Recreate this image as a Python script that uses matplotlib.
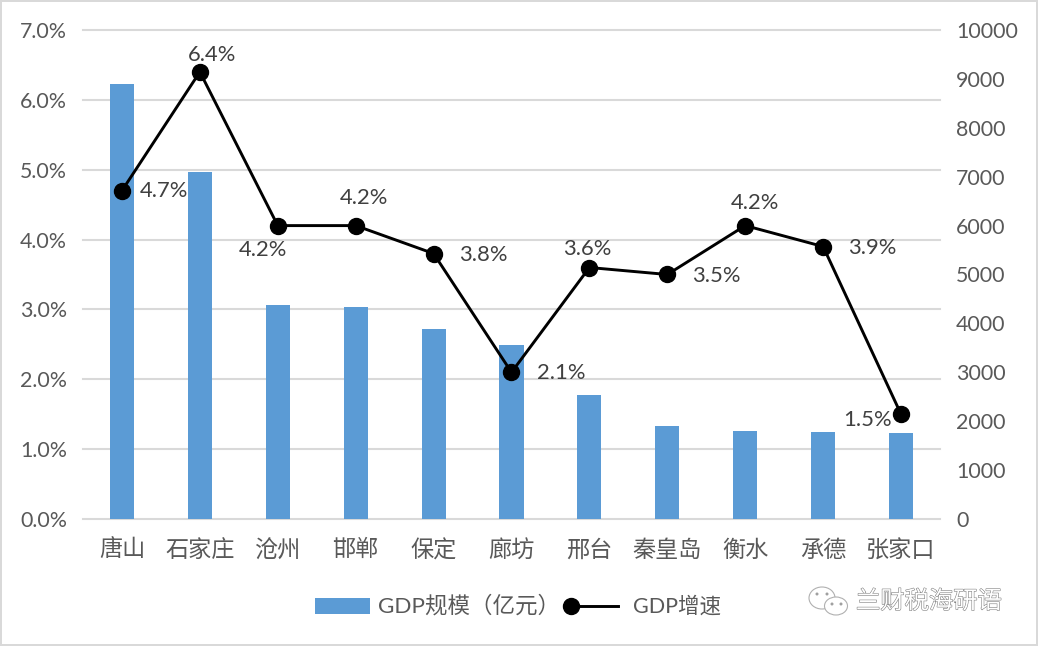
#!/usr/bin/python3
import numpy as np
import matplotlib
matplotlib.use('Agg')
import matplotlib.pyplot as plt
import matplotlib.patheffects as pe
from matplotlib.patches import Ellipse, Rectangle

plt.rcParams['font.family'] = ['Lato', 'Noto Sans CJK SC', 'DejaVu Sans']

# data
cities = ['唐山', '石家庄', '沧州', '邯郸', '保定', '廊坊', '邢台', '秦皇岛', '衡水', '承德', '张家口']
gdp_size = [8900, 7100, 4380, 4340, 3890, 3560, 2540, 1900, 1800, 1780, 1760]
gdp_growth = [4.7, 6.4, 4.2, 4.2, 3.8, 2.1, 3.6, 3.5, 4.2, 3.9, 1.5]

# label offset from marker, pixels (x right, y up)
label_dx = [42, 12, -15, 8, 50, 50, -2, 49, 10, 49, -34]
label_dy = [0, 17, -24, 28, -1, -1, 19, -2, 23, -1, -6]

size_label = 'GDP规模（亿元）'
growth_label = 'GDP增速'
watermark = '兰财税海研语'

text_col = '#595959'
grid_col = '#d9d9d9'
bar_col = '#5b9bd5'

W, H = 1038, 646
fig = plt.figure(figsize=(W/100, H/100), dpi=100)

# three layers: grid and left axis, bars and right axis, then the line
ax1 = fig.add_axes([83/W, 1-519/H, (940-83)/W, (519-30)/H])
ax2 = ax1.twinx()
ax3 = ax1.twinx()
ax1.set_zorder(1)
ax2.set_zorder(2)
ax3.set_zorder(3)
ax2.patch.set_visible(False)
ax3.patch.set_visible(False)

x = np.arange(len(cities))

ax2.bar(x, gdp_size, width=0.31, color=bar_col)
ax2.set_ylim(0, 10000)
ax2.set_yticks(np.arange(0, 10001, 1000))

ax1.set_ylim(0, 7)
ax1.set_yticks(np.arange(0, 8))
ax1.set_yticklabels(['%.1f%%' % v for v in np.arange(0, 8)])
ax1.set_xlim(-0.5, len(cities)-0.5)
ax1.set_xticks(x)
ax1.set_xticklabels(cities)
ax1.grid(axis='y', color=grid_col, lw=1.5)
for gl in ax1.get_ygridlines():
    gl.set_clip_on(False)

ax3.set_ylim(0, 7)
ax3.set_yticks([])
ax3.plot(x, gdp_growth, color='black', lw=2.1, marker='o', ms=11.5)

for i, v in enumerate(gdp_growth):
    ax3.annotate('%.1f%%' % v, (x[i], v), xytext=(label_dx[i]*0.72, label_dy[i]*0.72),
                 textcoords='offset points', ha='center', va='center',
                 fontsize=15.8, color='#404040')

for ax in (ax1, ax2, ax3):
    for s in ax.spines.values():
        s.set_visible(False)
    ax.tick_params(length=0, labelsize=15.4, labelcolor=text_col)
ax1.tick_params(axis='y', pad=11.5)
ax1.tick_params(axis='x', pad=14.5, labelsize=16.7)
ax2.tick_params(axis='y', pad=11.5)

# everything below is in image pixels
over = fig.add_axes([0, 0, 1, 1], facecolor='none')
over.set_xlim(0, W)
over.set_ylim(H, 0)
over.axis('off')
over.set_zorder(4)

# legend, marker sits at the left end of its line
over.add_patch(Rectangle((315, 598), 55, 16, fc=bar_col, ec='none'))
over.text(378, 606, size_label, fontsize=16.2, color=text_col, va='center')
over.plot([571, 618], [606, 606], color='black', lw=2.1)
over.plot([571], [606], color='black', marker='o', ms=11.5)
over.text(633, 606, growth_label, fontsize=15.5, color=text_col, va='center')

# watermark, white letters with a thin grey edge
over.text(856, 601, watermark, fontsize=17.5, color='white', ha='left', va='center',
          path_effects=[pe.withStroke(linewidth=0.8, foreground='#808080')])

# wechat bubbles of the watermark
over.add_patch(Ellipse((822, 598), 26, 22, fc='white', ec='#b0b0b0', lw=0.8))
over.add_patch(Ellipse((836, 606), 23, 18, fc='white', ec='#b0b0b0', lw=0.8))
for ex, ey in [(817, 594), (827, 594), (832, 604), (841, 604)]:
    over.add_patch(Ellipse((ex, ey), 3, 3, fc='#a0a0a0', ec='none'))

# image border
over.add_patch(Rectangle((1, 1), W-2, H-2, fc='none', ec='#d9d9d9', lw=1.44))

fig.savefig('out.png', dpi=100)
